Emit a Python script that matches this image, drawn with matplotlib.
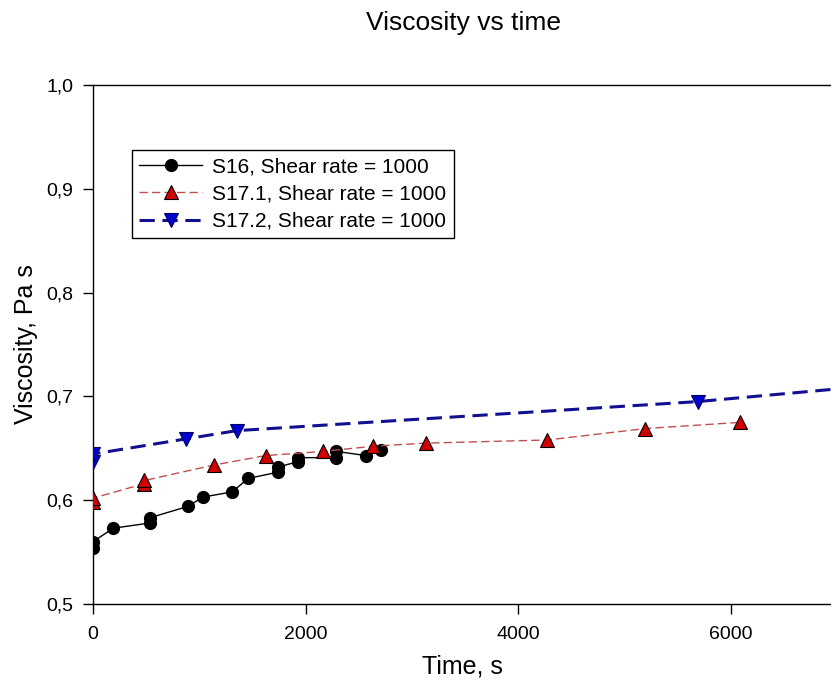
import matplotlib
matplotlib.use("Agg")
import matplotlib.pyplot as plt
from matplotlib.ticker import FuncFormatter

plt.rcParams['font.family'] = ['Liberation Sans', 'DejaVu Sans']

# S16, shear rate 1000
t_s16 = [0, 0, 190, 532, 532, 892, 1034, 1310, 1459, 1741, 1741, 1925, 1925, 2290, 2290, 2567, 2708]
v_s16 = [0.554, 0.560, 0.573, 0.578, 0.583, 0.594, 0.603, 0.608, 0.621, 0.627, 0.632, 0.637, 0.641,
         0.641, 0.647, 0.643, 0.648]

# S17.1, shear rate 1000
t_s171 = [0, 0, 484, 484, 1143, 1625, 2164, 2635, 3130, 4275, 5194, 6088]
v_s171 = [0.5985, 0.602, 0.616, 0.619, 0.634, 0.643, 0.647, 0.652, 0.655, 0.658, 0.669, 0.675]

# S17.2, shear rate 1000
t_s172 = [0, 0, 871, 1351, 5690, 7300]
v_s172 = [0.637, 0.6445, 0.659, 0.667, 0.695, 0.710]

yticks = [0.5, 0.6, 0.7, 0.8, 0.9, 1.0]
xticks = [0, 2000, 4000, 6000]

fig = plt.figure(figsize=(8.31, 6.88), dpi=100)
ax = fig.add_axes([93 / 831, 1 - 604 / 688, 1 - 93 / 831, (604 - 85) / 688])

ax.plot(t_s16, v_s16, color='black', lw=1, marker='o', ms=8.5,
        mfc='black', mec='black', label='S16, Shear rate = 1000', zorder=3)
ax.plot(t_s171, v_s171, color='#c05050', lw=1, ls=(0, (6, 3)), marker='^', ms=9.5,
        mfc='#d00000', mec='black', mew=0.8, label='S17.1, Shear rate = 1000', zorder=3)
ax.plot(t_s172, v_s172, color='#101090', lw=2.2, ls=(0, (5, 2.5)), marker='v', ms=9.5,
        mfc='#0000d0', mec='#000060', mew=0.8, label='S17.2, Shear rate = 1000', zorder=3)

ax.set_xlim(0, 6943)
ax.set_ylim(0.5, 1.0)
ax.set_xticks(xticks)
ax.set_yticks(yticks)
ax.yaxis.set_major_formatter(FuncFormatter(lambda v, p: ('%.1f' % v).replace('.', ',')))
ax.tick_params(direction='out', length=7, width=1, labelsize=14)
ax.tick_params(axis='x', pad=9)
ax.tick_params(axis='y', pad=7)
ax.spines['right'].set_visible(False)
for s in ['left', 'bottom', 'top']:
    ax.spines[s].set_linewidth(1)

ax.set_xlabel('Time, s', fontsize=18, labelpad=8)
ax.set_ylabel('Viscosity, Pa s', fontsize=18, labelpad=6)
fig.text(464 / 831, 1 - 23 / 688, 'Viscosity vs time', fontsize=19, ha='center', va='center')

leg = ax.legend(loc='upper left', bbox_to_anchor=(132 / 831, 1 - 150 / 688),
                bbox_transform=fig.transFigure, borderaxespad=0, fontsize=15,
                fancybox=False, framealpha=1, edgecolor='black', handlelength=3.0,
                labelspacing=0.4, borderpad=0.35, handletextpad=0.5)
leg.get_frame().set_linewidth(1)

fig.savefig('out.png', dpi=100)
